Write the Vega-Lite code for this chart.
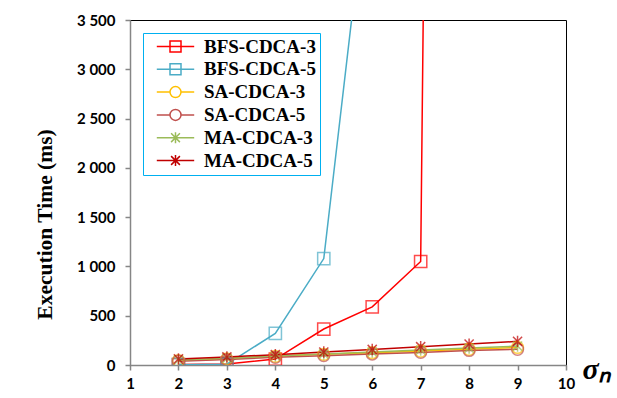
{
  "$schema": "https://vega.github.io/schema/vega-lite/v6.json",
  "width": 436,
  "height": 345,
  "autosize": {"type": "none"},
  "padding": {"left": 130, "top": 20, "right": 51, "bottom": 33},
  "background": "white",
  "config": {
    "view": {"stroke": "black", "strokeWidth": 1},
    "axis": {"grid": false}
  },
  "data": {
    "values": [
      {"series": "BFS-CDCA-3", "n": 2, "time": 5},
      {"series": "BFS-CDCA-3", "n": 3, "time": 10},
      {"series": "BFS-CDCA-3", "n": 4, "time": 60},
      {"series": "BFS-CDCA-3", "n": 5, "time": 365},
      {"series": "BFS-CDCA-3", "n": 6, "time": 590},
      {"series": "BFS-CDCA-3", "n": 7, "time": 1050},
      {"series": "BFS-CDCA-3", "n": 8, "time": 48000},
      {"series": "BFS-CDCA-5", "n": 2, "time": 3},
      {"series": "BFS-CDCA-5", "n": 3, "time": 8},
      {"series": "BFS-CDCA-5", "n": 4, "time": 320},
      {"series": "BFS-CDCA-5", "n": 5, "time": 1080},
      {"series": "BFS-CDCA-5", "n": 6, "time": 5300},
      {"series": "SA-CDCA-3", "n": 2, "time": 45},
      {"series": "SA-CDCA-3", "n": 3, "time": 62},
      {"series": "SA-CDCA-3", "n": 4, "time": 88},
      {"series": "SA-CDCA-3", "n": 5, "time": 108},
      {"series": "SA-CDCA-3", "n": 6, "time": 125},
      {"series": "SA-CDCA-3", "n": 7, "time": 142},
      {"series": "SA-CDCA-3", "n": 8, "time": 160},
      {"series": "SA-CDCA-3", "n": 9, "time": 178},
      {"series": "SA-CDCA-5", "n": 2, "time": 38},
      {"series": "SA-CDCA-5", "n": 3, "time": 55},
      {"series": "SA-CDCA-5", "n": 4, "time": 78},
      {"series": "SA-CDCA-5", "n": 5, "time": 95},
      {"series": "SA-CDCA-5", "n": 6, "time": 112},
      {"series": "SA-CDCA-5", "n": 7, "time": 128},
      {"series": "SA-CDCA-5", "n": 8, "time": 148},
      {"series": "SA-CDCA-5", "n": 9, "time": 160},
      {"series": "MA-CDCA-3", "n": 2, "time": 50},
      {"series": "MA-CDCA-3", "n": 3, "time": 68},
      {"series": "MA-CDCA-3", "n": 4, "time": 92},
      {"series": "MA-CDCA-3", "n": 5, "time": 112},
      {"series": "MA-CDCA-3", "n": 6, "time": 132},
      {"series": "MA-CDCA-3", "n": 7, "time": 152},
      {"series": "MA-CDCA-3", "n": 8, "time": 172},
      {"series": "MA-CDCA-3", "n": 9, "time": 192},
      {"series": "MA-CDCA-5", "n": 2, "time": 62},
      {"series": "MA-CDCA-5", "n": 3, "time": 82},
      {"series": "MA-CDCA-5", "n": 4, "time": 105},
      {"series": "MA-CDCA-5", "n": 5, "time": 132},
      {"series": "MA-CDCA-5", "n": 6, "time": 158},
      {"series": "MA-CDCA-5", "n": 7, "time": 186},
      {"series": "MA-CDCA-5", "n": 8, "time": 212},
      {"series": "MA-CDCA-5", "n": 9, "time": 240}
    ]
  },
  "encoding": {
    "x": {
      "field": "n", "type": "quantitative",
      "scale": {"domain": [1, 10], "nice": false, "zero": false},
      "axis": {
        "values": [1, 2, 3, 4, 5, 6, 7, 8, 9, 10],
        "title": "σₙ",
        "titleFont": "Liberation Serif", "titleFontStyle": "italic", "titleFontWeight": "bold",
        "titleFontSize": 30, "titleColor": "black",
        "titleX": 452, "titleY": 4, "titleAlign": "left", "titleBaseline": "middle", "titleAngle": 0,
        "labelFont": "Lato", "labelFontWeight": "bold", "labelFontSize": 15, "labelColor": "black",
        "labelPadding": 6, "labelFlush": false,
        "domainColor": "#868686", "domainWidth": 1.5,
        "tickColor": "#868686", "tickSize": 5, "tickWidth": 1.5
      }
    },
    "y": {
      "field": "time", "type": "quantitative",
      "scale": {"domain": [0, 3500], "nice": false},
      "axis": {
        "values": [0, 500, 1000, 1500, 2000, 2500, 3000, 3500],
        "labelExpr": "replace(format(datum.value, ','), ',', ' ')",
        "title": "Execution Time (ms)",
        "titleFont": "Liberation Serif", "titleFontWeight": "bold", "titleFontSize": 21.5, "titleColor": "black",
        "titleX": -85, "titleY": 204, "titleAlign": "center", "titleBaseline": "middle", "titleAngle": -90,
        "labelFont": "Lato", "labelFontWeight": "bold", "labelFontSize": 15, "labelColor": "black",
        "labelPadding": 10,
        "domainColor": "#868686", "domainWidth": 1.5,
        "tickColor": "#868686", "tickSize": 5, "tickWidth": 1.5
      }
    },
    "color": {
      "field": "series", "type": "nominal",
      "scale": {
        "domain": ["BFS-CDCA-3", "BFS-CDCA-5", "SA-CDCA-3", "SA-CDCA-5", "MA-CDCA-3", "MA-CDCA-5"],
        "range": ["#FF0000", "#4BACC6", "#FFC000", "#C0504D", "#9BBB59", "#C00000"]
      },
      "legend": {
        "orient": "none", "legendX": 13, "legendY": 13,
        "title": null,
        "strokeColor": "#00B0F0", "fillColor": "white", "padding": 4,
        "labelFont": "Liberation Serif", "labelFontWeight": "bold", "labelFontSize": 19, "labelColor": "black",
        "labelLimit": 300,
        "symbolSize": 121, "symbolStrokeWidth": 1.5, "symbolOffset": 19, "labelOffset": 19,
        "rowPadding": 2.8,
        "symbolFillColor": "transparent",
        "encode": {
          "symbols": {
            "update": {
              "shape": {"signal": "indexof(datum.value, 'BFS') === 0 ? 'M-3.4,0H3.4M-1,-1H1V1H-1Z' : indexof(datum.value, 'SA') === 0 ? 'M-3.4,0H-1M1,0H3.4M-1,0A1,1,0,1,0,1,0A1,1,0,1,0,-1,0' : 'M-3.4,0H3.4M-0.8,-0.8L0.8,0.8M-0.8,0.8L0.8,-0.8M0,-1V1'"},
              "fill": {"value": "transparent"}
            }
          }
        }
      }
    }
  },
  "layer": [
    {
      "mark": {"type": "line", "strokeWidth": 1.5, "clip": true}
    },
    {
      "transform": [{"filter": "indexof(datum.series, 'BFS') === 0"}],
      "mark": {"type": "point", "shape": "square", "filled": false, "size": 150, "strokeWidth": 1.5, "clip": true}
    },
    {
      "transform": [{"filter": "indexof(datum.series, 'SA') === 0"}],
      "mark": {"type": "point", "shape": "circle", "filled": false, "size": 140, "strokeWidth": 1.5, "clip": true}
    },
    {
      "transform": [{"filter": "indexof(datum.series, 'MA') === 0"}],
      "mark": {"type": "point", "shape": "M-0.8,-0.8L0.8,0.8M-0.8,0.8L0.8,-0.8M0,-1V1", "filled": false, "size": 130, "strokeWidth": 1.5, "clip": true}
    }
  ]
}
